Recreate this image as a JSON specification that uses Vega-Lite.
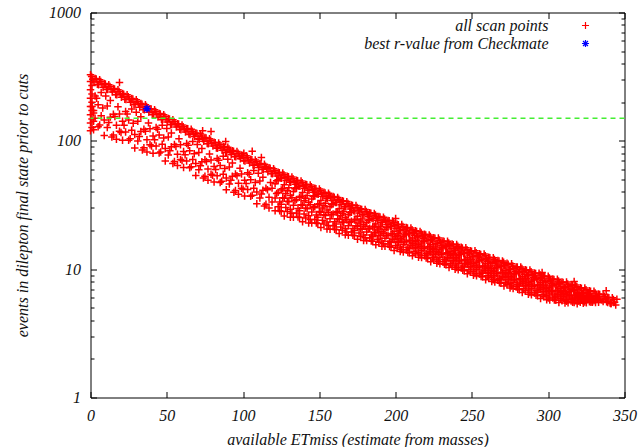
{
"$schema": "https://vega.github.io/schema/vega-lite/v6.json",
"width": 534, "height": 385,
"autosize": {"type": "none"},
"padding": {"left": 90.5, "top": 12.5, "right": 16.5, "bottom": 49.5},
"background": "white",
"config": {"view": {"stroke": "black", "strokeWidth": 1}, "font": "Liberation Serif",
 "axis": {"grid": false, "domain": false, "tickColor": "black", "tickWidth": 1, "labelFlush": false, "labelFont": "Liberation Serif", "labelFontStyle": "italic", "labelFontSize": 16, "labelColor": "#111", "titleFont": "Liberation Serif", "titleFontStyle": "italic", "titleFontWeight": "normal", "titleFontSize": 16, "titleColor": "#111"}},
"datasets": {
"scan": [
{"x":0,"y":327},{"x":1.5,"y":302},{"x":3,"y":306},{"x":4.5,"y":276},{"x":6,"y":299},{"x":7.5,"y":276},{"x":9,"y":280},{"x":10.5,"y":252},{"x":12,"y":274},{"x":13.5,"y":252},{"x":15,"y":256},{"x":16.5,"y":230},{"x":18,"y":250},{"x":19.5,"y":231},{"x":21,"y":234},{"x":22.5,"y":211},{"x":24,"y":229},{"x":25.5,"y":211},{"x":27,"y":214},{"x":28.5,"y":193},{"x":30,"y":209},{"x":31.5,"y":193},{"x":33,"y":195},{"x":34.5,"y":176},{"x":36,"y":191},{"x":37.5,"y":176},{"x":39,"y":178},{"x":40.5,"y":161},{"x":42,"y":175},{"x":43.5,"y":161},{"x":45,"y":163},{"x":46.5,"y":147},{"x":48,"y":160},{"x":49.5,"y":147},{"x":51,"y":149},{"x":52.5,"y":134},{"x":54,"y":146},{"x":55.5,"y":135},{"x":57,"y":136},{"x":58.5,"y":123},{"x":60,"y":133},{"x":61.5,"y":123},{"x":63,"y":125},{"x":64.5,"y":113},{"x":66,"y":123},{"x":67.5,"y":113},{"x":69,"y":115},{"x":70.5,"y":104},{"x":72,"y":113},{"x":73.5,"y":104},{"x":75,"y":106},{"x":76.5,"y":95.5},{"x":78,"y":104},{"x":79.5,"y":95.9},{"x":81,"y":97.6},{"x":82.5,"y":88.0},{"x":84,"y":96.2},{"x":85.5,"y":88.7},{"x":87,"y":90.5},{"x":88.5,"y":81.6},{"x":90,"y":89.1},{"x":91.5,"y":82.2},{"x":93,"y":83.9},{"x":94.5,"y":75.6},{"x":96,"y":82.6},{"x":97.5,"y":76.2},{"x":99,"y":77.7},{"x":100.5,"y":70.1},{"x":102,"y":76.5},{"x":103.5,"y":70.6},{"x":105,"y":71.9},{"x":106.5,"y":64.9},{"x":108,"y":70.8},{"x":109.5,"y":65.3},{"x":111,"y":66.6},{"x":112.5,"y":60.0},{"x":114,"y":65.6},{"x":115.5,"y":60.5},{"x":117,"y":61.6},{"x":118.5,"y":55.6},{"x":120,"y":60.7},{"x":121.5,"y":56.0},{"x":123,"y":57.0},{"x":124.5,"y":51.4},{"x":126,"y":56.2},{"x":127.5,"y":51.9},{"x":129,"y":53.0},{"x":130.5,"y":47.8},{"x":132,"y":52.3},{"x":133.5,"y":48.3},{"x":135,"y":49.3},{"x":136.5,"y":44.5},{"x":138,"y":48.7},{"x":139.5,"y":44.9},{"x":141,"y":45.9},{"x":142.5,"y":41.4},{"x":144,"y":45.3},{"x":145.5,"y":41.8},{"x":147,"y":42.7},{"x":148.5,"y":38.5},{"x":150,"y":42.2},{"x":151.5,"y":38.9},{"x":153,"y":39.7},{"x":154.5,"y":35.8},{"x":156,"y":39.1},{"x":157.5,"y":36.1},{"x":159,"y":36.8},{"x":160.5,"y":33.1},{"x":162,"y":36.2},{"x":163.5,"y":33.4},{"x":165,"y":34.1},{"x":166.5,"y":30.7},{"x":168,"y":33.6},{"x":169.5,"y":31.0},{"x":171,"y":31.6},{"x":172.5,"y":28.5},{"x":174,"y":31.3},{"x":175.5,"y":28.8},{"x":177,"y":29.5},{"x":178.5,"y":26.6},{"x":180,"y":29.2},{"x":181.5,"y":26.9},{"x":183,"y":27.5},{"x":184.5,"y":24.8},{"x":186,"y":27.2},{"x":187.5,"y":25.1},{"x":189,"y":25.7},{"x":190.5,"y":23.2},{"x":192,"y":25.4},{"x":193.5,"y":23.4},{"x":195,"y":24.0},{"x":196.5,"y":21.6},{"x":198,"y":23.7},{"x":199.5,"y":21.9},{"x":201,"y":22.4},{"x":202.5,"y":20.2},{"x":204,"y":22.3},{"x":205.5,"y":20.5},{"x":207,"y":21.1},{"x":208.5,"y":19.0},{"x":210,"y":20.9},{"x":211.5,"y":19.3},{"x":213,"y":19.9},{"x":214.5,"y":17.9},{"x":216,"y":19.7},{"x":217.5,"y":18.2},{"x":219,"y":18.7},{"x":220.5,"y":16.8},{"x":222,"y":18.5},{"x":223.5,"y":17.1},{"x":225,"y":17.6},{"x":226.5,"y":15.8},{"x":228,"y":17.5},{"x":229.5,"y":16.1},{"x":231,"y":16.6},{"x":232.5,"y":15.0},{"x":234,"y":16.5},{"x":235.5,"y":15.2},{"x":237,"y":15.7},{"x":238.5,"y":14.1},{"x":240,"y":15.6},{"x":241.5,"y":14.4},{"x":243,"y":14.8},{"x":244.5,"y":13.3},{"x":246,"y":14.7},{"x":247.5,"y":13.5},{"x":249,"y":13.9},{"x":250.5,"y":12.6},{"x":252,"y":13.9},{"x":253.5,"y":12.8},{"x":255,"y":13.2},{"x":256.5,"y":11.9},{"x":258,"y":13.1},{"x":259.5,"y":12.1},{"x":261,"y":12.4},{"x":262.5,"y":11.2},{"x":264,"y":12.3},{"x":265.5,"y":11.4},{"x":267,"y":11.7},{"x":268.5,"y":10.6},{"x":270,"y":11.6},{"x":271.5,"y":10.7},{"x":273,"y":11.1},{"x":274.5,"y":9.96},{"x":276,"y":11.0},{"x":277.5,"y":10.1},{"x":279,"y":10.4},{"x":280.5,"y":9.42},{"x":282,"y":10.4},{"x":283.5,"y":9.59},{"x":285,"y":9.89},{"x":286.5,"y":8.91},{"x":288,"y":9.84},{"x":289.5,"y":9.08},{"x":291,"y":9.35},{"x":292.5,"y":8.43},{"x":294,"y":9.31},{"x":295.5,"y":8.59},{"x":297,"y":8.85},{"x":298.5,"y":7.98},{"x":300,"y":8.81},{"x":301.5,"y":8.13},{"x":303,"y":8.39},{"x":304.5,"y":7.56},{"x":306,"y":8.36},{"x":307.5,"y":7.71},{"x":309,"y":7.96},{"x":310.5,"y":7.17},{"x":312,"y":7.93},{"x":313.5,"y":7.32},{"x":315,"y":7.55},{"x":316.5,"y":6.81},{"x":318,"y":7.53},{"x":319.5,"y":6.94},{"x":321,"y":7.16},{"x":322.5,"y":6.46},{"x":324,"y":7.14},{"x":325.5,"y":6.59},{"x":327,"y":6.78},{"x":328.5,"y":6.12},{"x":330,"y":6.74},{"x":331.5,"y":6.22},{"x":333,"y":6.40},{"x":334.5,"y":5.77},{"x":336,"y":6.36},{"x":337.5,"y":5.87},{"x":339,"y":6.03},{"x":340.5,"y":5.44},{"x":342,"y":6.00},{"x":343.5,"y":5.53},{"x":345,"y":5.82},
{"x":0.75,"y":317},{"x":2.25,"y":287},{"x":3.75,"y":303},{"x":5.25,"y":274},{"x":6.75,"y":290},{"x":8.25,"y":262},{"x":9.75,"y":277},{"x":11.25,"y":251},{"x":12.75,"y":265},{"x":14.25,"y":240},{"x":15.75,"y":253},{"x":17.25,"y":229},{"x":18.75,"y":242},{"x":20.25,"y":219},{"x":21.75,"y":231},{"x":23.25,"y":210},{"x":24.75,"y":221},{"x":26.25,"y":200},{"x":27.75,"y":212},{"x":29.25,"y":192},{"x":30.75,"y":202},{"x":32.25,"y":183},{"x":33.75,"y":193},{"x":35.25,"y":175},{"x":36.75,"y":185},{"x":38.25,"y":167},{"x":39.75,"y":177},{"x":41.25,"y":160},{"x":42.75,"y":169},{"x":44.25,"y":153},{"x":45.75,"y":162},{"x":47.25,"y":146},{"x":48.75,"y":155},{"x":50.25,"y":140},{"x":51.75,"y":148},{"x":53.25,"y":134},{"x":54.75,"y":141},{"x":56.25,"y":128},{"x":57.75,"y":135},{"x":59.25,"y":122},{"x":60.75,"y":129},{"x":62.25,"y":117},{"x":63.75,"y":124},{"x":65.25,"y":112},{"x":66.75,"y":119},{"x":68.25,"y":108},{"x":69.75,"y":114},{"x":71.25,"y":103},{"x":72.75,"y":109},{"x":74.25,"y":99.1},{"x":75.75,"y":105},{"x":77.25,"y":95.1},{"x":78.75,"y":101},{"x":80.25,"y":91.2},{"x":81.75,"y":96.7},{"x":83.25,"y":87.6},{"x":84.75,"y":93.1},{"x":86.25,"y":84.3},{"x":87.75,"y":89.7},{"x":89.25,"y":81.2},{"x":90.75,"y":86.3},{"x":92.25,"y":78.2},{"x":93.75,"y":83.1},{"x":95.25,"y":75.2},{"x":96.75,"y":80.0},{"x":98.25,"y":72.4},{"x":99.75,"y":77.0},{"x":101.25,"y":69.7},{"x":102.75,"y":74.1},{"x":104.25,"y":67.1},{"x":105.75,"y":71.3},{"x":107.25,"y":64.6},{"x":108.75,"y":68.6},{"x":110.25,"y":62.1},{"x":111.75,"y":66.0},{"x":113.25,"y":59.8},{"x":114.75,"y":63.5},{"x":116.25,"y":57.5},{"x":117.75,"y":61.1},{"x":119.25,"y":55.3},{"x":120.75,"y":58.7},{"x":122.25,"y":53.2},{"x":123.75,"y":56.5},{"x":125.25,"y":51.2},{"x":126.75,"y":54.4},{"x":128.25,"y":49.3},{"x":129.75,"y":52.5},{"x":131.25,"y":47.6},{"x":132.75,"y":50.7},{"x":134.25,"y":45.9},{"x":135.75,"y":48.9},{"x":137.25,"y":44.3},{"x":138.75,"y":47.2},{"x":140.25,"y":42.7},{"x":141.75,"y":45.5},{"x":143.25,"y":41.2},{"x":144.75,"y":43.9},{"x":146.25,"y":39.7},{"x":147.75,"y":42.3},{"x":149.25,"y":38.3},{"x":150.75,"y":40.8},{"x":152.25,"y":37.0},{"x":153.75,"y":39.3},{"x":155.25,"y":35.6},{"x":156.75,"y":37.8},{"x":158.25,"y":34.3},{"x":159.75,"y":36.4},{"x":161.25,"y":33.0},{"x":162.75,"y":35.1},{"x":164.25,"y":31.8},{"x":165.75,"y":33.8},{"x":167.25,"y":30.6},{"x":168.75,"y":32.5},{"x":170.25,"y":29.4},{"x":171.75,"y":31.3},{"x":173.25,"y":28.4},{"x":174.75,"y":30.3},{"x":176.25,"y":27.4},{"x":177.75,"y":29.2},{"x":179.25,"y":26.5},{"x":180.75,"y":28.2},{"x":182.25,"y":25.6},{"x":183.75,"y":27.3},{"x":185.25,"y":24.7},{"x":186.75,"y":26.4},{"x":188.25,"y":23.9},{"x":189.75,"y":25.5},{"x":191.25,"y":23.1},{"x":192.75,"y":24.6},{"x":194.25,"y":22.3},{"x":195.75,"y":23.8},{"x":197.25,"y":21.5},{"x":198.75,"y":23.0},{"x":200.25,"y":20.8},{"x":201.75,"y":22.2},{"x":203.25,"y":20.1},{"x":204.75,"y":21.5},{"x":206.25,"y":19.5},{"x":207.75,"y":20.9},{"x":209.25,"y":18.9},{"x":210.75,"y":20.3},{"x":212.25,"y":18.4},{"x":213.75,"y":19.7},{"x":215.25,"y":17.8},{"x":216.75,"y":19.1},{"x":218.25,"y":17.3},{"x":219.75,"y":18.5},{"x":221.25,"y":16.8},{"x":222.75,"y":18.0},{"x":224.25,"y":16.3},{"x":225.75,"y":17.4},{"x":227.25,"y":15.8},{"x":228.75,"y":16.9},{"x":230.25,"y":15.3},{"x":231.75,"y":16.4},{"x":233.25,"y":14.9},{"x":234.75,"y":16.0},{"x":236.25,"y":14.5},{"x":237.75,"y":15.5},{"x":239.25,"y":14.0},{"x":240.75,"y":15.1},{"x":242.25,"y":13.6},{"x":243.75,"y":14.6},{"x":245.25,"y":13.3},{"x":246.75,"y":14.2},{"x":248.25,"y":12.9},{"x":249.75,"y":13.8},{"x":251.25,"y":12.5},{"x":252.75,"y":13.4},{"x":254.25,"y":12.2},{"x":255.75,"y":13.0},{"x":257.25,"y":11.8},{"x":258.75,"y":12.7},{"x":260.25,"y":11.5},{"x":261.75,"y":12.3},{"x":263.25,"y":11.1},{"x":264.75,"y":11.9},{"x":266.25,"y":10.8},{"x":267.75,"y":11.6},{"x":269.25,"y":10.5},{"x":270.75,"y":11.3},{"x":272.25,"y":10.2},{"x":273.75,"y":10.9},{"x":275.25,"y":9.92},{"x":276.75,"y":10.6},{"x":278.25,"y":9.64},{"x":279.75,"y":10.4},{"x":281.25,"y":9.38},{"x":282.75,"y":10.1},{"x":284.25,"y":9.12},{"x":285.75,"y":9.79},{"x":287.25,"y":8.87},{"x":288.75,"y":9.53},{"x":290.25,"y":8.63},{"x":291.75,"y":9.27},{"x":293.25,"y":8.39},{"x":294.75,"y":9.02},{"x":296.25,"y":8.17},{"x":297.75,"y":8.77},{"x":299.25,"y":7.94},{"x":300.75,"y":8.53},{"x":302.25,"y":7.73},{"x":303.75,"y":8.31},{"x":305.25,"y":7.53},{"x":306.75,"y":8.09},{"x":308.25,"y":7.33},{"x":309.75,"y":7.89},{"x":311.25,"y":7.14},{"x":312.75,"y":7.68},{"x":314.25,"y":6.96},{"x":315.75,"y":7.48},{"x":317.25,"y":6.78},{"x":318.75,"y":7.29},{"x":320.25,"y":6.60},{"x":321.75,"y":7.10},{"x":323.25,"y":6.43},{"x":324.75,"y":6.92},{"x":326.25,"y":6.26},{"x":327.75,"y":6.72},{"x":329.25,"y":6.09},{"x":330.75,"y":6.53},{"x":332.25,"y":5.91},{"x":333.75,"y":6.34},{"x":335.25,"y":5.74},{"x":336.75,"y":6.16},{"x":338.25,"y":5.58},{"x":339.75,"y":5.98},{"x":341.25,"y":5.41},{"x":342.75,"y":5.81},{"x":344.25,"y":5.26},
{"x":1,"y":127},{"x":1,"y":185},{"x":3,"y":150},{"x":3,"y":224},{"x":5,"y":129},{"x":5,"y":191},{"x":7,"y":157},{"x":7,"y":238},{"x":9,"y":110},{"x":9,"y":145},{"x":11,"y":127},{"x":11,"y":187},{"x":13,"y":153},{"x":13,"y":206},{"x":15,"y":111},{"x":15,"y":161},{"x":17,"y":132},{"x":17,"y":103},{"x":19,"y":162},{"x":19,"y":119},{"x":21,"y":101},{"x":21,"y":142},{"x":23,"y":117},{"x":23,"y":169},{"x":25,"y":101},{"x":25,"y":145},{"x":27,"y":121},{"x":27,"y":177},{"x":29,"y":87.8},{"x":29,"y":112},{"x":31,"y":99.5},{"x":31,"y":142},{"x":33,"y":118},{"x":33,"y":154},{"x":35,"y":88.3},{"x":35,"y":123},{"x":37,"y":102},{"x":37,"y":82.0},{"x":39,"y":124},{"x":39,"y":93.1},{"x":41,"y":80.1},{"x":41,"y":109},{"x":43,"y":91.2},{"x":43,"y":127},{"x":45,"y":80.3},{"x":45,"y":111},{"x":47,"y":94.0},{"x":47,"y":132},{"x":49,"y":69.7},{"x":49,"y":87.2},{"x":51,"y":77.7},{"x":51,"y":107},{"x":53,"y":90.0},{"x":53,"y":115},{"x":55,"y":68.9},{"x":55,"y":93.6},{"x":57,"y":78.6},{"x":57,"y":64.1},{"x":59,"y":93.2},{"x":59,"y":71.7},{"x":61,"y":62.0},{"x":61,"y":82.7},{"x":63,"y":69.7},{"x":63,"y":95.4},{"x":65,"y":61.6},{"x":65,"y":83.7},{"x":67,"y":71.5},{"x":67,"y":98.9},{"x":69,"y":53.7},{"x":69,"y":66.5},{"x":71,"y":59.6},{"x":71,"y":81.2},{"x":73,"y":68.6},{"x":73,"y":87.1},{"x":75,"y":53.0},{"x":75,"y":71.2},{"x":77,"y":60.2},{"x":77,"y":49.3},{"x":79,"y":71.0},{"x":79,"y":55.0},{"x":81,"y":47.7},{"x":81,"y":63.2},{"x":83,"y":53.5},{"x":83,"y":72.8},{"x":85,"y":47.4},{"x":85,"y":64.1},{"x":87,"y":55.0},{"x":87,"y":75.7},{"x":89,"y":41.5},{"x":89,"y":51.3},{"x":91,"y":46.0},{"x":91,"y":62.6},{"x":93,"y":53.0},{"x":93,"y":67.1},{"x":95,"y":41.1},{"x":95,"y":55.1},{"x":97,"y":46.7},{"x":97,"y":38.3},{"x":99,"y":55.1},{"x":99,"y":42.7},{"x":101,"y":37.2},{"x":101,"y":49.2},{"x":103,"y":41.7},{"x":103,"y":56.5},{"x":105,"y":37.0},{"x":105,"y":49.8},{"x":107,"y":42.8},{"x":107,"y":58.7},{"x":109,"y":32.4},{"x":109,"y":39.9},{"x":111,"y":35.9},{"x":111,"y":48.6},{"x":113,"y":41.2},{"x":113,"y":52.0},{"x":115,"y":32.0},{"x":115,"y":42.8},{"x":117,"y":36.3},{"x":117,"y":29.9},{"x":119,"y":42.8},{"x":119,"y":33.3},
{"x":2,"y":172},{"x":4,"y":215},{"x":6,"y":133},{"x":8,"y":180},{"x":10,"y":224},{"x":12,"y":139},{"x":14,"y":107},{"x":16,"y":155},{"x":18,"y":184},{"x":20,"y":116},{"x":22,"y":132},{"x":24,"y":162},{"x":26,"y":104},{"x":28,"y":137},{"x":30,"y":167},{"x":32,"y":108},{"x":34,"y":84.8},{"x":36,"y":119},{"x":38,"y":138},{"x":40,"y":91.3},{"x":42,"y":102},{"x":44,"y":123},{"x":46,"y":81.9},{"x":48,"y":105},{"x":50,"y":125},{"x":52,"y":83.6},{"x":54,"y":66.6},{"x":56,"y":90.4},{"x":58,"y":104},{"x":60,"y":70.2},{"x":62,"y":77.9},{"x":64,"y":92.3},{"x":66,"y":62.8},{"x":68,"y":79.3},{"x":70,"y":93.7},{"x":72,"y":63.9},{"x":74,"y":51.3},{"x":76,"y":68.9},{"x":78,"y":78.8},{"x":80,"y":53.9},{"x":82,"y":59.7},{"x":84,"y":70.5},{"x":86,"y":48.4},{"x":88,"y":60.9},{"x":90,"y":72.0},{"x":92,"y":49.4},{"x":94,"y":39.8},{"x":96,"y":53.4},{"x":98,"y":61.1},{"x":100,"y":41.9},{"x":102,"y":46.5},{"x":104,"y":54.8},{"x":106,"y":37.7},{"x":108,"y":47.4},{"x":110,"y":55.8},{"x":112,"y":38.5},{"x":114,"y":31.0},{"x":116,"y":41.5},{"x":118,"y":47.3},
{"x":121,"y":28.5},{"x":121,"y":35.8},{"x":121,"y":46.4},{"x":123,"y":30.6},{"x":123,"y":39.7},{"x":123,"y":49.8},{"x":125,"y":28.2},{"x":125,"y":32.0},{"x":125,"y":41.4},{"x":127,"y":26.0},{"x":127,"y":35.7},{"x":127,"y":45.4},{"x":129,"y":28.1},{"x":129,"y":33.8},{"x":129,"y":40.8},{"x":131,"y":29.3},{"x":131,"y":37.5},{"x":131,"y":25.4},{"x":133,"y":25.4},{"x":133,"y":31.5},{"x":133,"y":40.3},{"x":135,"y":27.4},{"x":135,"y":34.9},{"x":135,"y":43.1},{"x":137,"y":25.3},{"x":137,"y":28.5},{"x":137,"y":36.3},{"x":139,"y":23.4},{"x":139,"y":31.5},{"x":139,"y":39.5},{"x":141,"y":25.1},{"x":141,"y":30.0},{"x":141,"y":35.7},{"x":143,"y":26.1},{"x":143,"y":33.0},{"x":143,"y":22.9},{"x":145,"y":22.9},{"x":145,"y":27.9},{"x":145,"y":35.2},{"x":147,"y":24.4},{"x":147,"y":30.7},{"x":147,"y":37.4},{"x":149,"y":22.7},{"x":149,"y":25.4},{"x":149,"y":31.8},{"x":151,"y":21.1},{"x":151,"y":27.8},{"x":151,"y":34.3},{"x":153,"y":22.5},{"x":153,"y":26.5},{"x":153,"y":31.2},{"x":155,"y":23.3},{"x":155,"y":28.9},{"x":155,"y":20.6},{"x":157,"y":20.5},{"x":157,"y":24.7},{"x":157,"y":30.6},{"x":159,"y":21.8},{"x":159,"y":26.9},{"x":159,"y":32.3},{"x":161,"y":20.3},{"x":161,"y":22.5},{"x":161,"y":27.7},{"x":163,"y":19.0},{"x":163,"y":24.4},{"x":163,"y":29.6},{"x":165,"y":20.1},{"x":165,"y":23.3},{"x":165,"y":27.1},{"x":167,"y":20.7},{"x":167,"y":25.2},{"x":167,"y":18.5},{"x":169,"y":18.4},{"x":169,"y":21.8},{"x":169,"y":26.5},{"x":171,"y":19.5},{"x":171,"y":23.6},{"x":171,"y":27.8},{"x":173,"y":18.2},{"x":173,"y":20.0},{"x":173,"y":24.2},{"x":175,"y":17.1},{"x":175,"y":21.6},{"x":175,"y":25.8},{"x":177,"y":18.0},{"x":177,"y":20.7},{"x":177,"y":23.7},{"x":179,"y":18.5},{"x":179,"y":22.2},{"x":179,"y":16.7},{"x":181,"y":16.7},{"x":181,"y":19.5},{"x":181,"y":23.2},{"x":183,"y":17.5},{"x":183,"y":20.8},{"x":183,"y":24.3},{"x":185,"y":16.5},{"x":185,"y":17.9},{"x":185,"y":21.3},{"x":187,"y":15.5},{"x":187,"y":19.2},{"x":187,"y":22.5},{"x":189,"y":16.2},{"x":189,"y":18.4},{"x":189,"y":20.9},{"x":191,"y":16.6},{"x":191,"y":19.6},{"x":191,"y":15.1},{"x":193,"y":15.1},{"x":193,"y":17.4},{"x":193,"y":20.4},{"x":195,"y":15.7},{"x":195,"y":18.4},{"x":195,"y":21.2},{"x":197,"y":14.8},{"x":197,"y":16.1},{"x":197,"y":18.8},{"x":199,"y":14.0},{"x":199,"y":17.0},{"x":199,"y":19.7},{"x":201,"y":14.6},{"x":201,"y":16.4},{"x":201,"y":18.4},{"x":203,"y":14.9},{"x":203,"y":17.4},{"x":203,"y":13.7},{"x":205,"y":13.6},{"x":205,"y":15.5},{"x":205,"y":18.0},{"x":207,"y":14.1},{"x":207,"y":16.4},{"x":207,"y":18.7},{"x":209,"y":13.4},{"x":209,"y":14.4},{"x":209,"y":16.7},{"x":211,"y":12.7},{"x":211,"y":15.2},{"x":211,"y":17.5},{"x":213,"y":13.2},{"x":213,"y":14.7},{"x":213,"y":16.4},{"x":215,"y":13.4},{"x":215,"y":15.5},{"x":215,"y":12.4},{"x":217,"y":12.3},{"x":217,"y":13.9},{"x":217,"y":16.0},{"x":219,"y":12.7},{"x":219,"y":14.6},{"x":219,"y":16.6},{"x":221,"y":12.1},{"x":221,"y":12.9},{"x":221,"y":14.9},{"x":223,"y":11.4},{"x":223,"y":13.6},{"x":223,"y":15.5},{"x":225,"y":11.8},{"x":225,"y":13.1},{"x":225,"y":14.5},{"x":227,"y":12.0},{"x":227,"y":13.8},{"x":227,"y":11.1},{"x":229,"y":11.0},{"x":229,"y":12.4},{"x":229,"y":14.2},{"x":231,"y":11.4},{"x":231,"y":13.1},{"x":231,"y":14.7},{"x":233,"y":10.8},{"x":233,"y":11.6},{"x":233,"y":13.3},{"x":235,"y":10.3},{"x":235,"y":12.2},{"x":235,"y":13.8},{"x":237,"y":10.6},{"x":237,"y":11.7},{"x":237,"y":13.0},{"x":239,"y":10.8},{"x":239,"y":12.3},{"x":239,"y":9.98},{"x":241,"y":9.90},{"x":241,"y":11.1},{"x":241,"y":12.7},{"x":243,"y":10.2},{"x":243,"y":11.7},{"x":243,"y":13.1},{"x":245,"y":9.70},{"x":245,"y":10.4},{"x":245,"y":11.8},{"x":247,"y":9.22},{"x":247,"y":10.9},{"x":247,"y":12.3},{"x":249,"y":9.51},{"x":249,"y":10.5},{"x":249,"y":11.6},{"x":251,"y":9.65},{"x":251,"y":11.0},{"x":251,"y":8.95},{"x":253,"y":8.88},{"x":253,"y":9.95},{"x":253,"y":11.3},{"x":255,"y":9.15},{"x":255,"y":10.4},{"x":255,"y":11.7},{"x":257,"y":8.71},{"x":257,"y":9.28},{"x":257,"y":10.6},{"x":259,"y":8.28},{"x":259,"y":9.72},{"x":259,"y":11.0},{"x":261,"y":8.53},{"x":261,"y":9.39},{"x":261,"y":10.3},{"x":263,"y":8.64},{"x":263,"y":9.81},{"x":263,"y":8.02},{"x":265,"y":7.95},{"x":265,"y":8.89},{"x":265,"y":10.1},{"x":267,"y":8.18},{"x":267,"y":9.29},{"x":267,"y":10.4},{"x":269,"y":7.77},{"x":269,"y":8.28},{"x":269,"y":9.41},{"x":271,"y":7.38},{"x":271,"y":8.66},{"x":271,"y":9.77},{"x":273,"y":7.59},{"x":273,"y":8.36},{"x":273,"y":9.20},{"x":275,"y":7.69},{"x":275,"y":8.74},{"x":275,"y":7.14},{"x":277,"y":7.07},{"x":277,"y":7.91},{"x":277,"y":9.00},{"x":279,"y":7.28},{"x":279,"y":8.28},{"x":279,"y":9.27},{"x":281,"y":6.92},{"x":281,"y":7.38},{"x":281,"y":8.39},{"x":283,"y":6.58},{"x":283,"y":7.73},{"x":283,"y":8.74},{"x":285,"y":6.78},{"x":285,"y":7.46},{"x":285,"y":8.22},{"x":287,"y":6.87},{"x":287,"y":7.82},{"x":287,"y":6.38},{"x":289,"y":6.32},{"x":289,"y":7.08},{"x":289,"y":8.05},{"x":291,"y":6.52},{"x":291,"y":7.42},{"x":291,"y":8.30},{"x":293,"y":6.21},{"x":293,"y":6.62},{"x":293,"y":7.52},{"x":295,"y":5.92},{"x":295,"y":6.94},{"x":295,"y":7.83},{"x":297,"y":6.11},{"x":297,"y":6.71},{"x":297,"y":7.38},{"x":299,"y":6.20},{"x":299,"y":7.03},{"x":299,"y":5.77},{"x":301,"y":5.75},{"x":301,"y":6.40},{"x":301,"y":7.24},{"x":303,"y":5.95},{"x":303,"y":6.71},{"x":303,"y":7.45},{"x":305,"y":5.72},{"x":305,"y":6.06},{"x":305,"y":6.81},{"x":307,"y":5.51},{"x":307,"y":6.34},{"x":307,"y":7.06},{"x":309,"y":5.68},{"x":309,"y":6.17},{"x":309,"y":6.70},{"x":311,"y":5.79},{"x":311,"y":6.43},{"x":311,"y":5.46},{"x":313,"y":5.48},{"x":313,"y":5.97},{"x":313,"y":6.60},{"x":315,"y":5.66},{"x":315,"y":6.21},{"x":315,"y":6.73},{"x":317,"y":5.51},{"x":317,"y":5.75},{"x":317,"y":6.27},{"x":319,"y":5.38},{"x":319,"y":5.95},{"x":319,"y":6.42},{"x":321,"y":5.53},{"x":321,"y":5.84},{"x":321,"y":6.17},{"x":323,"y":5.63},{"x":323,"y":6.00},{"x":323,"y":5.43},{"x":325,"y":5.47},{"x":325,"y":5.74},{"x":325,"y":6.07},{"x":327,"y":5.58},{"x":327,"y":5.84},{"x":327,"y":6.08},{"x":329,"y":5.53},{"x":329,"y":5.63},{"x":329,"y":5.84},{"x":331,"y":5.51},{"x":331,"y":5.69},{"x":331,"y":5.84},{"x":333,"y":5.53},{"x":333,"y":5.70},{"x":336,"y":5.6},{"x":339,"y":5.5},{"x":341,"y":5.4},{"x":343,"y":5.5},
{"x":122,"y":38.9},{"x":122,"y":48.8},{"x":124,"y":33.4},{"x":124,"y":28.5},{"x":126,"y":42.3},{"x":126,"y":36.0},{"x":128,"y":30.2},{"x":128,"y":38.8},{"x":130,"y":43.0},{"x":130,"y":33.5},{"x":132,"y":36.0},{"x":132,"y":27.3},{"x":134,"y":34.2},{"x":134,"y":42.3},{"x":136,"y":29.7},{"x":136,"y":25.5},{"x":138,"y":37.0},{"x":138,"y":31.8},{"x":140,"y":26.9},{"x":140,"y":34.1},{"x":142,"y":37.5},{"x":142,"y":29.6},{"x":144,"y":31.7},{"x":144,"y":24.4},{"x":146,"y":30.1},{"x":146,"y":36.8},{"x":148,"y":26.4},{"x":148,"y":22.9},{"x":150,"y":32.3},{"x":150,"y":28.1},{"x":152,"y":24.0},{"x":152,"y":29.9},{"x":154,"y":32.6},{"x":154,"y":26.2},{"x":156,"y":27.8},{"x":156,"y":21.9},{"x":158,"y":26.5},{"x":158,"y":31.8},{"x":160,"y":23.4},{"x":160,"y":20.5},{"x":162,"y":28.1},{"x":162,"y":24.7},{"x":164,"y":21.3},{"x":164,"y":26.1},{"x":166,"y":28.2},{"x":166,"y":23.1},{"x":168,"y":24.3},{"x":168,"y":19.5},{"x":170,"y":23.2},{"x":170,"y":27.5},{"x":172,"y":20.7},{"x":172,"y":18.4},{"x":174,"y":24.5},{"x":174,"y":21.8},{"x":176,"y":19.1},{"x":176,"y":22.9},{"x":178,"y":24.6},{"x":178,"y":20.5},{"x":180,"y":21.5},{"x":180,"y":17.6},{"x":182,"y":20.6},{"x":182,"y":24.0},{"x":184,"y":18.5},{"x":184,"y":16.6},{"x":186,"y":21.6},{"x":186,"y":19.4},{"x":188,"y":17.1},{"x":188,"y":20.2},{"x":190,"y":21.5},{"x":190,"y":18.2},{"x":192,"y":19.0},{"x":192,"y":15.8},{"x":194,"y":18.2},{"x":194,"y":21.0},{"x":196,"y":16.5},{"x":196,"y":15.0},{"x":198,"y":19.0},{"x":198,"y":17.2},{"x":200,"y":15.3},{"x":200,"y":17.9},{"x":202,"y":18.9},{"x":202,"y":16.2},{"x":204,"y":16.9},{"x":204,"y":14.2},{"x":206,"y":16.3},{"x":206,"y":18.5},{"x":208,"y":14.8},{"x":208,"y":13.5},{"x":210,"y":16.8},{"x":210,"y":15.4},{"x":212,"y":13.8},{"x":212,"y":15.9},{"x":214,"y":16.8},{"x":214,"y":14.6},{"x":216,"y":15.1},{"x":216,"y":12.9},{"x":218,"y":14.5},{"x":218,"y":16.4},{"x":220,"y":13.3},{"x":220,"y":12.2},{"x":222,"y":15.0},{"x":222,"y":13.7},{"x":224,"y":12.4},{"x":224,"y":14.2},{"x":226,"y":14.9},{"x":226,"y":13.0},{"x":228,"y":13.4},{"x":228,"y":11.5},{"x":230,"y":13.0},{"x":230,"y":14.6},{"x":232,"y":11.9},{"x":232,"y":10.9},{"x":234,"y":13.4},{"x":234,"y":12.3},{"x":236,"y":11.1},{"x":236,"y":12.7},{"x":238,"y":13.3},{"x":238,"y":11.6},{"x":240,"y":12.0},{"x":240,"y":10.3},{"x":242,"y":11.6},{"x":242,"y":13.0},{"x":244,"y":10.6},{"x":244,"y":9.79},{"x":246,"y":11.9},{"x":246,"y":11.0},{"x":248,"y":9.92},{"x":248,"y":11.3},{"x":250,"y":11.9},{"x":250,"y":10.4},{"x":252,"y":10.7},{"x":252,"y":9.26},{"x":254,"y":10.3},{"x":254,"y":11.6},{"x":256,"y":9.52},{"x":256,"y":8.78},{"x":258,"y":10.6},{"x":258,"y":9.81},{"x":260,"y":8.89},{"x":260,"y":10.1},{"x":262,"y":10.6},{"x":262,"y":9.30},{"x":264,"y":9.57},{"x":264,"y":8.28},{"x":266,"y":9.23},{"x":266,"y":10.3},{"x":268,"y":8.50},{"x":268,"y":7.84},{"x":270,"y":9.47},{"x":270,"y":8.74},{"x":272,"y":7.91},{"x":272,"y":8.99},{"x":274,"y":9.41},{"x":274,"y":8.28},{"x":276,"y":8.52},{"x":276,"y":7.38},{"x":278,"y":8.23},{"x":278,"y":9.20},{"x":280,"y":7.57},{"x":280,"y":6.98},{"x":282,"y":8.45},{"x":282,"y":7.80},{"x":284,"y":7.06},{"x":284,"y":8.04},{"x":286,"y":8.41},{"x":286,"y":7.40},{"x":288,"y":7.62},{"x":288,"y":6.59},{"x":290,"y":7.36},{"x":290,"y":8.24},{"x":292,"y":6.79},{"x":292,"y":6.26},{"x":294,"y":7.58},{"x":294,"y":7.00},{"x":296,"y":6.36},{"x":296,"y":7.21},{"x":298,"y":7.54},{"x":298,"y":6.66},{"x":300,"y":6.85},{"x":300,"y":5.96},{"x":302,"y":6.66},{"x":302,"y":7.40},{"x":304,"y":6.19},{"x":304,"y":5.75},{"x":306,"y":6.86},{"x":306,"y":6.38},{"x":308,"y":5.88},{"x":308,"y":6.57},{"x":310,"y":6.83},{"x":310,"y":6.13},{"x":312,"y":6.31},{"x":312,"y":5.63},{"x":314,"y":6.17},{"x":314,"y":6.71},{"x":316,"y":5.83},{"x":316,"y":5.52},{"x":318,"y":6.30},{"x":318,"y":5.97},{"x":320,"y":5.64},{"x":320,"y":6.09},{"x":322,"y":6.24},{"x":322,"y":5.83},{"x":324,"y":5.93},{"x":324,"y":5.54},{"x":326,"y":5.84},{"x":326,"y":6.10},{"x":328,"y":5.67},{"x":328,"y":5.53},{"x":330,"y":5.83},{"x":330,"y":5.71},
{"x":0,"y":120},{"x":0,"y":138},{"x":0,"y":160},{"x":0,"y":185},{"x":0,"y":215},{"x":0,"y":250},{"x":0,"y":290},{"x":1,"y":148},{"x":1,"y":172},{"x":1,"y":200},{"x":1,"y":232},{"x":1,"y":270},{"x":2,"y":122},{"x":2,"y":142},{"x":2,"y":165},
{"x":19,"y":285},{"x":73.5,"y":120},{"x":79,"y":118},{"x":88.6,"y":99},{"x":100.5,"y":80},{"x":106,"y":83},{"x":112,"y":74},{"x":200,"y":24.8},{"x":296,"y":9.4},{"x":317,"y":8.0},{"x":338,"y":6.8}
],
"best": [{"x": 37, "y": 178}],
"cut": [{"y": 150}]
},
"layer": [
{"data": {"name": "scan"},
 "mark": {"type": "point", "filled": false, "strokeWidth": 1.5, "size": 56, "opacity": 1},
 "encoding": {
  "x": {"field": "x", "type": "quantitative", "scale": {"domain": [0, 350], "nice": false, "zero": false},
   "axis": {"orient": "bottom", "values": [0,50,100,150,200,250,300,350], "tickSize": -6, "labelPadding": 16, "title": "available ETmiss (estimate from masses)", "titlePadding": 8}},
  "y": {"field": "y", "type": "quantitative", "scale": {"type": "log", "domain": [1, 1000]},
   "axis": {"orient": "left", "values": [1,2,3,4,5,6,7,8,9,10,20,30,40,50,60,70,80,90,100,200,300,400,500,600,700,800,900,1000], "format": "d",
    "labelExpr": "(datum.value == 1 || datum.value == 10 || datum.value == 100 || datum.value == 1000) ? datum.label : ''",
    "tickSize": {"condition": {"test": "datum.value == 1 || datum.value == 10 || datum.value == 100 || datum.value == 1000", "value": -6}, "value": -3.5},
    "labelPadding": 16, "title": "events in dilepton final state prior to cuts", "titlePadding": 18}},
  "color": {"datum": "all scan points", "scale": {"domain": ["all scan points", "best r-value from Checkmate"], "range": ["#ff0000", "#0000ff"]},
   "legend": {"title": null, "orient": "none", "legendX": 487, "legendY": 5, "padding": 0, "rowPadding": 2, "labelAlign": "right", "labelOffset": -45, "labelLimit": 500, "labelFont": "Liberation Serif", "labelFontStyle": "italic", "labelFontSize": 16, "labelColor": "#111", "symbolSize": 50, "symbolStrokeWidth": 1.2}},
  "shape": {"datum": "all scan points", "scale": {"domain": ["all scan points", "best r-value from Checkmate"], "range": ["M-1,0L1,0M0,-1L0,1", "M-1,0L1,0M0,-1L0,1M-0.7,-0.7L0.7,0.7M-0.7,0.7L0.7,-0.7"]},
   "legend": {"title": null, "orient": "none", "legendX": 487, "legendY": 5, "padding": 0, "rowPadding": 2, "labelAlign": "right", "labelOffset": -45, "labelLimit": 500, "labelFont": "Liberation Serif", "labelFontStyle": "italic", "labelFontSize": 16, "labelColor": "#111", "symbolSize": 50, "symbolStrokeWidth": 1.2}}
 }},
{"data": {"name": "cut"},
 "mark": {"type": "rule", "color": "#44ee33", "strokeDash": [5, 4], "strokeWidth": 1.5},
 "encoding": {"y": {"field": "y", "type": "quantitative",
   "axis": {"orient": "right", "values": [1,2,3,4,5,6,7,8,9,10,20,30,40,50,60,70,80,90,100,200,300,400,500,600,700,800,900,1000], "labels": false, "title": null,
    "tickSize": {"condition": {"test": "datum.value == 1 || datum.value == 10 || datum.value == 100 || datum.value == 1000", "value": -6}, "value": -3.5}}}}},
{"data": {"name": "best"},
 "mark": {"type": "point", "filled": false, "strokeWidth": 1.5, "size": 60, "opacity": 1},
 "encoding": {
  "x": {"field": "x", "type": "quantitative", "axis": {"orient": "top", "values": [0,50,100,150,200,250,300,350], "tickSize": -6, "labels": false, "title": null}},
  "y": {"field": "y", "type": "quantitative", "axis": null},
  "color": {"datum": "best r-value from Checkmate"},
  "shape": {"datum": "best r-value from Checkmate"}
 }}
],
"resolve": {"axis": {"x": "independent", "y": "independent"}}
}
